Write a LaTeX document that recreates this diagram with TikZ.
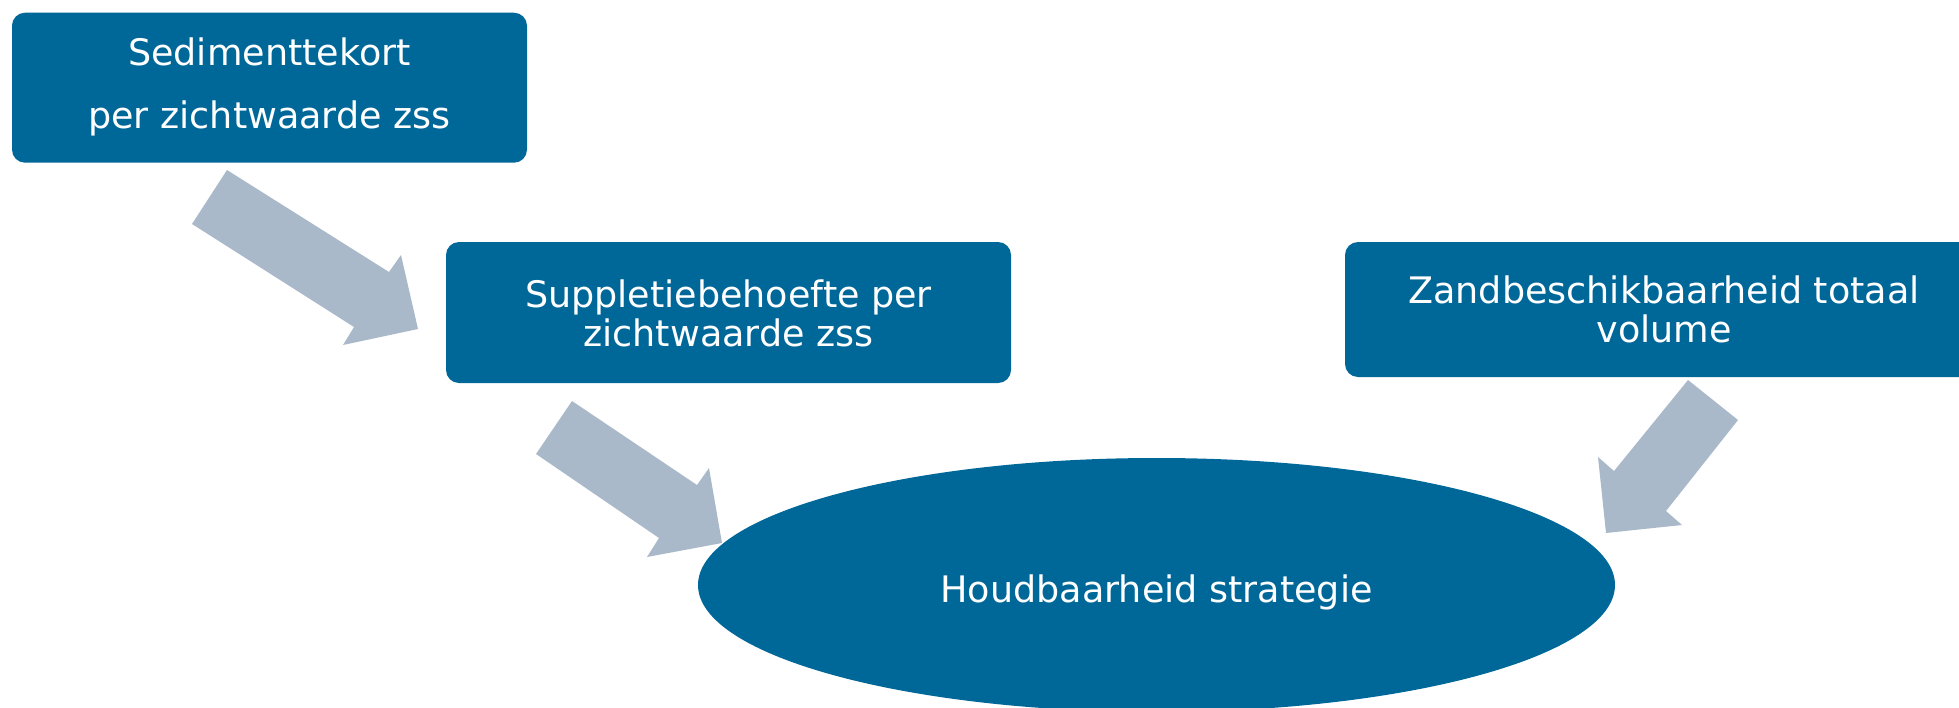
\documentclass[tikz,border=0pt]{standalone}
\usepackage{fontspec}
\setmainfont{DejaVu Sans}
\usetikzlibrary{shapes.geometric}
\definecolor{boxblue}{RGB}{0,103,153}
\definecolor{arrowgray}{RGB}{170,185,202}
\begin{document}
\begin{tikzpicture}[x=1pt,y=-1pt,
  box/.style={fill=boxblue, draw=none, rounded corners=13pt, inner sep=0pt},
  lbl/.style={text=white, anchor=base, inner sep=0pt, font=\fontsize{36.5}{40}\selectfont},
  blockarrow/.style={fill=arrowgray}]
\useasboundingbox (0,0) rectangle (1959,707);
% boxes
\node[box, minimum width=515pt, minimum height=150pt] (b1) at (269.5,87.7) {};
\node[box, minimum width=565pt, minimum height=141pt] (b2) at (728.5,312.5) {};
\node[box, minimum width=638pt, minimum height=135pt] (b3) at (1664,309.5) {};
\node[ellipse, fill=boxblue, inner sep=0pt, minimum width=917pt, minimum height=254pt] (e) at (1156.5,585) {};
% labels
\node[lbl] (t1a) at (269.5,65) {Sedimenttekort};
\node[lbl] (t1b) at (269.5,128) {per zichtwaarde zss};
\node[lbl] (t2a) at (728.5,307) {Suppletiebehoefte per};
\node[lbl] (t2b) at (728.5,346) {zichtwaarde zss};
\node[lbl] (t3a) at (1664,303) {Zandbeschikbaarheid totaal};
\node[lbl] (t3b) at (1664,342) {volume};
\node[lbl] (t4) at (1156.5,602) {Houdbaarheid strategie};
% block arrows
\fill[blockarrow] (227,170) -- (389,272) -- (401,255) -- (418,329) -- (343,345) -- (354,327) -- (192,224) -- cycle;
\fill[blockarrow] (572,401) -- (697,485) -- (709,468) -- (722,543) -- (647,557) -- (659,538) -- (536,454) -- cycle;
\fill[blockarrow] (1688,380) -- (1738,420) -- (1666,511) -- (1682,525) -- (1606,533) -- (1598,457) -- (1614,471) -- cycle;
\end{tikzpicture}
\end{document}
